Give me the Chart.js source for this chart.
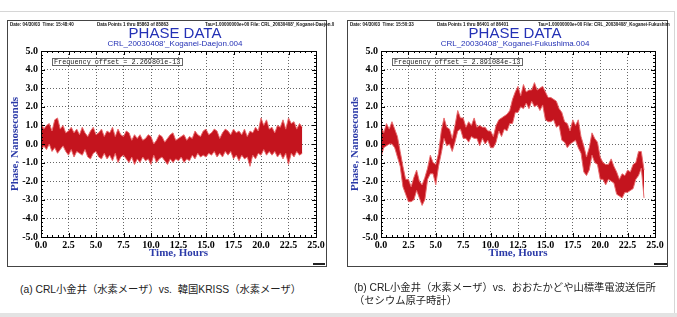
<!DOCTYPE html>
<html>
<head>
<meta charset="utf-8">
<script src="https://cdn.jsdelivr.net/npm/chart.js@4.4.1/dist/chart.umd.min.js"></script>
<style>
  body { margin: 0; width: 677px; height: 317px; background: #fff; position: relative; overflow: hidden;
         font-family: "Liberation Sans", Arial, sans-serif; }
  .topline { position: absolute; left: 0; top: 11px; width: 675px; border-top: 1px solid #d6d6d6; }
  .rightline { position: absolute; left: 674px; top: 11px; height: 302px; border-left: 1px solid #d6d6d6; }
  .bottomband { position: absolute; left: 0; top: 313px; width: 677px; height: 4px; background: #e3e3e3; }
  .panel { position: absolute; top: 20px; height: 247px; }
  .panel canvas { position: absolute; left: 0; top: 0; z-index: 0; }
  .frame { position: absolute; left: 0; top: 0; right: 0; bottom: 0; border: 1px solid #444; pointer-events: none; }
  .hdr { position: absolute; top: 2px; font-size: 4.5px; line-height: 5px; font-weight: bold; color: #111; white-space: nowrap; }
  .title { position: absolute; top: 5px; left: 168px; transform: translateX(-50%); font-size: 15px; line-height: 15px;
           color: #2431b5; white-space: nowrap; }
  .subtitle { position: absolute; top: 20px; left: 168px; transform: translateX(-50%); font-size: 8px; line-height: 8px;
              color: #2431b5; white-space: nowrap; }
  .offset { position: absolute; z-index: 2; left: 45px; top: 38px; width: 131px; height: 8px; box-sizing: border-box;
            border: 1px solid #666; background: #fff; font-family: "Liberation Mono", monospace; font-size: 6.8px;
            line-height: 6px; padding-left: 1px; color: #222; white-space: nowrap; overflow: hidden; }
  .mark { position: absolute; top: 243px; width: 12px; height: 2px; background: #222; }
  .cap { position: absolute; font-family: "Liberation Sans", "Noto Sans CJK JP", sans-serif; font-size: 10.3px;
         line-height: 13px; color: #222; white-space: nowrap; }
</style>
</head>
<body>
<div class="topline"></div>
<div class="rightline"></div>
<div class="bottomband"></div>

<div class="panel" style="left:7px; width:320px;">
  <canvas id="chartA" width="320" height="247"></canvas>
  <div class="frame"></div>
  <span class="hdr" style="left:3px;">Date: 04/30/03&nbsp;&nbsp;Time: 15:48:40</span>
  <span class="hdr" style="left:90px;">Data Points 1 thru 85863 of 85863</span>
  <span class="hdr" style="left:198px;">Tau=1.00000000e+00 File: CRL_20030408'_Koganei-Daejon.0</span>
  <div class="title">PHASE DATA</div>
  <div class="subtitle">CRL_20030408'_Koganei-Daejon.004</div>
  <div class="offset">Frequency offset = 2.269801e-13</div>
  <div class="mark" style="left:306px;"></div>
</div>

<div class="panel" style="left:347px; width:321px;">
  <canvas id="chartB" width="321" height="247"></canvas>
  <div class="frame"></div>
  <span class="hdr" style="left:3px;">Date: 04/30/03&nbsp;&nbsp;Time: 15:50:33</span>
  <span class="hdr" style="left:90px;">Data Points 1 thru 86401 of 86401</span>
  <span class="hdr" style="left:191px;">Tau=1.00000000e+00 File: CRL_20030408'_Koganei-Fukushim</span>
  <div class="title">PHASE DATA</div>
  <div class="subtitle">CRL_20030408'_Koganei-Fukushima.004</div>
  <div class="offset">Frequency offset = 2.891084e-13</div>
  <div class="mark" style="left:307px; width:13px;"></div>
</div>

<div class="cap" style="left:20px; top:283px;">(a) CRL小金井（水素メーザ）vs.&nbsp; 韓国KRISS（水素メーザ）</div>
<div class="cap" style="left:354px; top:281px;">(b) CRL小金井（水素メーザ）vs.&nbsp; おおたかどや山標準電波送信所<br>（セシウム原子時計）</div>

<script>
// ========== DATA ==========
// time axis (hours), one sample every 15 minutes
const hours = [
    0, 0.25, 0.5, 0.75, 1, 1.25, 1.5, 1.75, 2, 2.25, 2.5, 2.75,
    3, 3.25, 3.5, 3.75, 4, 4.25, 4.5, 4.75, 5, 5.25, 5.5, 5.75,
    6, 6.25, 6.5, 6.75, 7, 7.25, 7.5, 7.75, 8, 8.25, 8.5, 8.75,
    9, 9.25, 9.5, 9.75, 10, 10.25, 10.5, 10.75, 11, 11.25, 11.5, 11.75,
    12, 12.25, 12.5, 12.75, 13, 13.25, 13.5, 13.75, 14, 14.25, 14.5, 14.75,
    15, 15.25, 15.5, 15.75, 16, 16.25, 16.5, 16.75, 17, 17.25, 17.5, 17.75,
    18, 18.25, 18.5, 18.75, 19, 19.25, 19.5, 19.75, 20, 20.25, 20.5, 20.75,
    21, 21.25, 21.5, 21.75, 22, 22.25, 22.5, 22.75, 23, 23.25, 23.5, 23.75,
    24
];

// (a) Koganei - Daejon: upper / lower edge of the noisy phase trace (ns)
const upperA = [
    1.2, 0.8, 1.0, 1.1, 0.7, 1.3, 1.4, 0.8, 1.0, 0.6, 0.7, 0.9,
    0.6, 0.8, 0.5, 0.9, 0.6, 0.4, 0.7, 0.9, 0.5, 0.6, 0.8, 0.4,
    0.7, 0.6, 0.9, 0.4, 0.8, 0.5, 0.4, 0.7, 0.6, 0.2, 0.5, 0.3,
    0.5, 0.2, 0.3, 0.5, 0.4, 0.0, 0.2, 0.5, 0.4, 0.1, 0.3, 0.5,
    0.6, 0.2, 0.3, 0.4, 0.5, 0.2, 0.4, 0.3, 0.7, 0.5, 0.4, 0.7,
    0.8, 0.5, 0.6, 0.8, 0.7, 0.3, 0.6, 0.8, 0.7, 0.5, 0.8, 0.6,
    0.7, 0.5, 0.8, 0.4, 0.7, 0.6, 0.9, 0.7, 1.4, 1.0, 1.3, 0.8,
    0.9, 0.6, 1.0, 0.9, 1.3, 0.8, 1.4, 1.1, 1.2, 0.8, 1.1, 0.9
];
const lowerA = [
    -0.4, -0.1, -0.3, 0.0, -0.4, -0.2, -0.5, -0.3, -0.1, -0.4, -0.6, -0.3,
    -0.7, -0.4, -0.5, -0.6, -0.3, -0.7, -0.8, -0.5, -0.4, -0.7, -0.8, -0.5,
    -0.8, -0.6, -0.9, -0.5, -1.0, -0.7, -0.6, -0.8, -1.0, -0.7, -1.1, -0.8,
    -1.0, -0.7, -0.9, -0.8, -1.1, -0.6, -1.0, -0.8, -0.7, -0.9, -1.1, -0.8,
    -1.0, -0.8, -0.9, -0.7, -1.0, -0.8, -0.9, -0.6, -0.8, -0.5, -0.7, -0.6,
    -0.7, -0.5, -0.6, -0.4, -0.7, -0.5, -0.7, -0.4, -0.6, -0.4, -0.8, -0.6,
    -0.9, -0.6, -0.8, -0.7, -1.2, -0.6, -0.8, -0.5, -0.6, -0.3, -0.6, -0.4,
    -0.6, -0.4, -0.7, -0.5, -0.8, -0.5, -1.1, -0.5, -0.7, -0.4, -0.6, -0.5
];

// (b) Koganei - Fukushima
const upperB = [
    1.0, 0.6, 1.1, 0.8, 1.2, 0.8, 0.4, -0.4, -1.2, -1.9, -1.9, -2.3,
    -1.8, -1.4, -2.0, -2.2, -1.8, -1.3, -0.6, -1.0, -1.1, -0.5, 0.7, 1.4,
    0.9, 0.8, 0.3, 1.0, 1.8, 1.4, 1.4, 0.9, 1.2, 1.0, 1.4, 0.9,
    1.0, 0.9, 0.9, 0.7, 0.7, 0.4, 1.0, 1.3, 1.4, 1.5, 1.6, 1.8,
    2.4, 2.8, 3.1, 2.6, 3.2, 2.8, 2.9, 2.9, 3.3, 2.9, 3.0, 3.1,
    2.8, 2.5, 2.5, 2.4, 2.3, 1.9, 1.7, 1.2, 1.1, 0.7, 1.3, 1.0,
    1.3, 0.4, -0.1, -0.7, -0.2, 0.6, 0.3, 0.1, -0.7, -1.0, -1.1, -1.1,
    -0.8, -1.2, -1.5, -1.9, -1.6, -1.7, -1.4, -1.5, -1.1, -1.0, -0.4, -0.4,
    -1.4
];
const lowerB = [
    -0.7, -0.2, -0.1, 0.0, 0.0, -0.2, -0.7, -1.2, -2.3, -2.7, -3.1, -3.1,
    -3.0, -2.5, -2.9, -3.3, -3.0, -1.9, -1.6, -1.6, -2.2, -1.2, -0.5, 0.3,
    -0.1, 0.0, -0.4, 0.1, 0.7, 0.8, 0.3, 0.3, 0.1, 0.4, 0.3, 0.3,
    -0.1, 0.3, 0.0, 0.2, -0.2, -0.2, 0.1, 0.7, 0.4, 0.8, 0.7, 1.1,
    1.1, 1.7, 1.7, 2.0, 1.9, 2.2, 1.9, 2.3, 2.0, 2.1, 1.8, 2.1,
    1.3, 1.2, 1.2, 1.3, 0.9, 1.0, 0.2, 0.1, -0.2, 0.0, 0.1, 0.2,
    -0.2, -0.5, -1.5, -1.7, -1.4, -0.6, -1.0, -1.1, -1.9, -1.9, -2.2, -1.9,
    -2.0, -2.1, -2.7, -2.8, -2.9, -2.6, -2.6, -2.5, -2.4, -1.9, -1.7, -1.3,
    -2.9
];

const xTickValues = [0, 2.5, 5, 7.5, 10, 12.5, 15, 17.5, 20, 22.5, 25];
const xTickLabels = ['0.0', '2.5', '5.0', '7.5', '10.0', '12.5', '15.0', '17.5', '20.0', '22.5', '25.0'];
const yTickValues = [-5, -4, -3, -2, -1, 0, 1, 2, 3, 4, 5];
const yTickLabels = ['-5.0', '-4.0', '-3.0', '-2.0', '-1.0', '0.0', '1.0', '2.0', '3.0', '4.0', '5.0'];

// ========== STYLE ==========
const TRACE_FILL = 'rgb(196, 20, 30)';
const TRACE_EDGE = 'rgba(232, 108, 110, 0.95)';
const AXIS_BLUE = '#2b3aa8';
const SERIF = '"Liberation Serif", "Times New Roman", serif';

// plot frame with small inward ticks, like the Stable32 plots
const frameTicks = {
    id: 'frameTicks',
    afterDraw(chart) {
        const { ctx, chartArea: a, scales: { x, y } } = chart;
        ctx.save();
        ctx.strokeStyle = '#000';
        ctx.lineWidth = 1;
        ctx.beginPath();
        for (let h = 0; h <= 25.001; h += 0.5) {
            const px = Math.round(x.getPixelForValue(h)) + 0.5;
            const len = (Math.abs(h / 2.5 - Math.round(h / 2.5)) < 1e-6) ? 4 : 2;
            ctx.moveTo(px, a.bottom); ctx.lineTo(px, a.bottom - len);
            ctx.moveTo(px, a.top); ctx.lineTo(px, a.top + len);
        }
        for (let v = -5; v <= 5.001; v += 0.2) {
            const py = Math.round(y.getPixelForValue(v)) + 0.5;
            const len = (Math.abs(v - Math.round(v)) < 1e-6) ? 4 : 2;
            ctx.moveTo(a.left, py); ctx.lineTo(a.left + len, py);
            ctx.moveTo(a.right, py); ctx.lineTo(a.right - len, py);
        }
        ctx.stroke();
        ctx.strokeRect(Math.round(a.left) + 0.5, Math.round(a.top) + 0.5,
                       Math.round(a.right - a.left), Math.round(a.bottom - a.top));
        ctx.restore();
    }
};

// ========== CHART ==========
function makeChart(id, upper, lower, padRight) {
    const toPoints = arr => arr.map((v, i) => ({ x: hours[i], y: v }));

    return new Chart(document.getElementById(id), {
        type: 'line',
        data: {
            datasets: [
                {
                    data: toPoints(upper),
                    borderColor: TRACE_EDGE,
                    borderWidth: 1,
                    pointRadius: 0,
                    fill: false
                },
                {
                    data: toPoints(lower),
                    borderColor: TRACE_EDGE,
                    borderWidth: 1,
                    pointRadius: 0,
                    backgroundColor: TRACE_FILL,
                    fill: '-1'
                }
            ]
        },
        options: {
            responsive: false,
            animation: false,
            events: [],
            layout: { padding: { top: 31, right: padRight, left: 0, bottom: 0 } },
            plugins: {
                legend: { display: false },
                tooltip: { enabled: false }
            },
            scales: {
                x: {
                    type: 'linear',
                    min: 0,
                    max: 25,
                    afterBuildTicks: s => { s.ticks = xTickValues.map(v => ({ value: v })); },
                    afterFit: s => { s.height = 30; },
                    ticks: {
                        autoSkip: false,
                        maxRotation: 0,
                        padding: 2,
                        color: '#000',
                        font: { family: SERIF, size: 10, weight: 'bold' },
                        callback: (v, i) => xTickLabels[i]
                    },
                    grid: { color: '#666', lineWidth: 1, drawTicks: false },
                    border: { display: false, dash: [1, 2] },
                    title: {
                        display: true,
                        text: 'Time, Hours',
                        color: AXIS_BLUE,
                        font: { family: SERIF, size: 11, weight: 'bold' },
                        padding: { top: 0, bottom: 7 }
                    }
                },
                y: {
                    type: 'linear',
                    min: -5,
                    max: 5,
                    afterBuildTicks: s => { s.ticks = yTickValues.map(v => ({ value: v })); },
                    afterFit: s => { s.width = 34; },
                    ticks: {
                        autoSkip: false,
                        padding: 3,
                        color: '#000',
                        font: { family: SERIF, size: 10, weight: 'bold' },
                        callback: (v, i) => yTickLabels[i]
                    },
                    grid: { color: '#666', lineWidth: 1, drawTicks: false },
                    border: { display: false, dash: [1, 2] },
                    title: {
                        display: true,
                        text: 'Phase, Nanoseconds',
                        color: AXIS_BLUE,
                        font: { family: SERIF, size: 11, weight: 'bold' },
                        padding: { top: 1.5, bottom: 0 }
                    }
                }
            }
        },
        plugins: [frameTicks]
    });
}

makeChart('chartA', upperA, lowerA, 11);
makeChart('chartB', upperB, lowerB, 13);
</script>
</body>
</html>
